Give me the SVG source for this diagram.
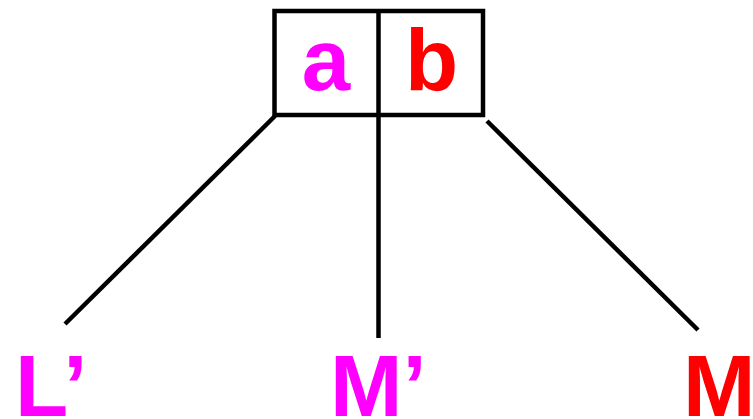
<svg xmlns="http://www.w3.org/2000/svg" width="753" height="419" viewBox="0 0 753 419">
<style>
.ln{stroke:#000;stroke-width:4.5;fill:none}
.t{font-family:"Liberation Sans",Arial,sans-serif;font-weight:bold;font-size:87px}
.mag{fill:#ff00ff}
.red{fill:#ff0000}
</style>
<rect width="753" height="419" fill="#fff"/>
<g id="node-ab">
<rect class="ln" x="274.5" y="11" width="208.5" height="104"/>
<line class="ln" x1="378.5" y1="9" x2="378.5" y2="115"/>
<text class="t mag" x="326" y="90" text-anchor="middle">a</text>
<text class="t red" x="431.5" y="90" text-anchor="middle">b</text>
</g>
<g id="connectors">
<line class="ln" x1="275" y1="116" x2="65" y2="324"/>
<line class="ln" x1="378.5" y1="115" x2="378.5" y2="338"/>
<line class="ln" x1="487" y1="121" x2="698" y2="330"/>
</g>
<g id="node-L"><text class="t mag" x="15" y="416">L’</text></g>
<g id="node-Mp"><text class="t mag" x="330" y="416">M’</text></g>
<g id="node-M"><text class="t red" x="683" y="416">M</text></g>
</svg>
